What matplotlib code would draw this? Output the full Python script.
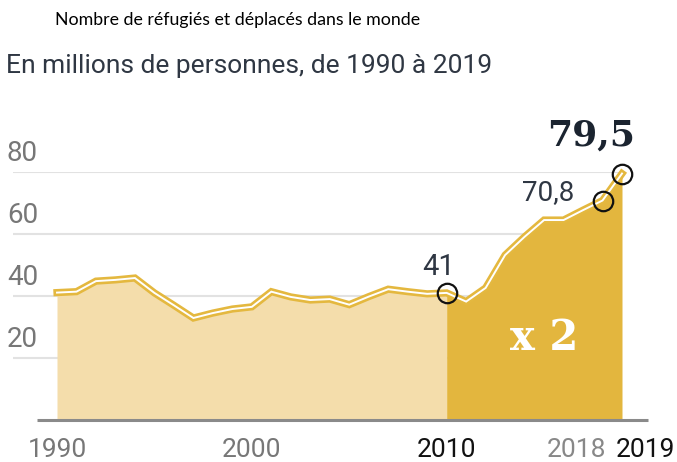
import matplotlib
matplotlib.use("Agg")
from matplotlib import pyplot as plt

# data (millions of people)
years = list(range(1990, 2020))
values = [41.1, 41.4, 44.8, 45.2, 45.8, 41.0, 37.0, 32.9, 34.5, 35.8,
          36.5, 41.4, 39.7, 38.7, 39.0, 37.2, 39.8, 42.2, 41.4, 40.7,
          41.0, 38.2, 42.6, 53.2, 59.1, 64.5, 64.5, 67.7, 70.8, 79.5]
y_ticks = [20, 40, 60, 80]
x_labels = {1990: "1990", 2000: "2000", 2010: "2010", 2018: "2018", 2019: "2019"}

LIGHT = "#f4ddab"
DARK = "#e3b63e"
LINE = "#e4b83f"
GRID = "#e2e2e2"
SLATE = "#2f3743"

W, H = 677, 462
fig = plt.figure(figsize=(W / 100, H / 100), dpi=100)

# axes mapped so that 1990 -> 57px, 2019 -> 622px, 0 -> y 420px, 80 -> y 172px
px_year = (622 - 57) / 29
left_year = 1990 - 44 / px_year
right_year = 2019 + 26 / px_year
ax = fig.add_axes([13 / W, (H - 420) / H, (648 - 13) / W, (420 - 172) / H])
ax.set_xlim(left_year, right_year)
ax.set_ylim(0, 80)
ax.axis("off")

# gridlines and baseline
for t in y_ticks:
    ax.hlines(t, left_year, 2019, color=GRID, lw=1.5, zorder=0)
    ax.text(7 / W, (H - 420 + (t * 3.1) + 5) / H, str(t), transform=fig.transFigure,
            fontsize=20, color="#777777", ha="left", va="bottom", family="Roboto")
ax.hlines(0, 1990 - 20 / px_year, right_year, color="#8a8a8a", lw=2.2, zorder=5, clip_on=False)

# filled areas
i10 = years.index(2010)
ax.fill_between(years[:i10 + 1], values[:i10 + 1], 0, color=LIGHT, lw=0, zorder=1)
ax.fill_between(years[i10:], values[i10:], 0, color=DARK, lw=0, zorder=1)

# double line
ax.plot(years, values, color=LINE, lw=5.2, solid_joinstyle="miter", zorder=3, clip_on=False)
ax.plot(years, values, color="white", lw=1.4, solid_joinstyle="miter", zorder=4, clip_on=False)

# circles on the highlighted years
for yr in (2010, 2018, 2019):
    ax.plot(yr, values[years.index(yr)], "o", ms=14, mfc="none", mec="#111111", mew=1.6,
            zorder=6, clip_on=False)

ax.annotate("41", (2010, values[i10]), xytext=(-6, 19), textcoords="offset points",
            ha="center", va="center", fontsize=21, color=SLATE, family="Roboto")
ax.annotate("70,8", (2018, values[years.index(2018)]), xytext=(-39, 6), textcoords="offset points",
            ha="center", va="center", fontsize=20, color=SLATE, family="Roboto")
ax.annotate("79,5", (2019, values[-1]), xytext=(-22, 15), textcoords="offset points",
            ha="center", va="bottom", fontsize=26, fontweight="bold", color="#1b2430",
            family="DejaVu Serif")
ax.text(2015.0, 26.5, "x 2", ha="center", va="center", fontsize=30, fontweight="bold",
        color="white", family="DejaVu Serif", zorder=7)

# year labels
offsets = {1990: 0, 2000: 0, 2010: 0, 2018: -19, 2019: 17}
colors = {1990: "#777777", 2000: "#777777", 2010: "#111111", 2018: "#888888", 2019: "#111111"}
for yr, lab in x_labels.items():
    ax.annotate(lab, (yr, 0), xytext=(offsets[yr], -13), textcoords="offset points",
                ha="center", va="top", fontsize=19, color=colors[yr],
                family="Roboto", annotation_clip=False)

# titles
fig.text(55 / W, 1 - 20 / H, "Nombre de réfugiés et déplacés dans le monde",
         fontsize=12.8, color="black", ha="left", va="center", family="Lato")
fig.text(6 / W, 1 - 66 / H, "En millions de personnes, de 1990 à 2019",
         fontsize=19, color=SLATE, ha="left", va="center", family="Roboto")

fig.savefig("out.png", dpi=100)
